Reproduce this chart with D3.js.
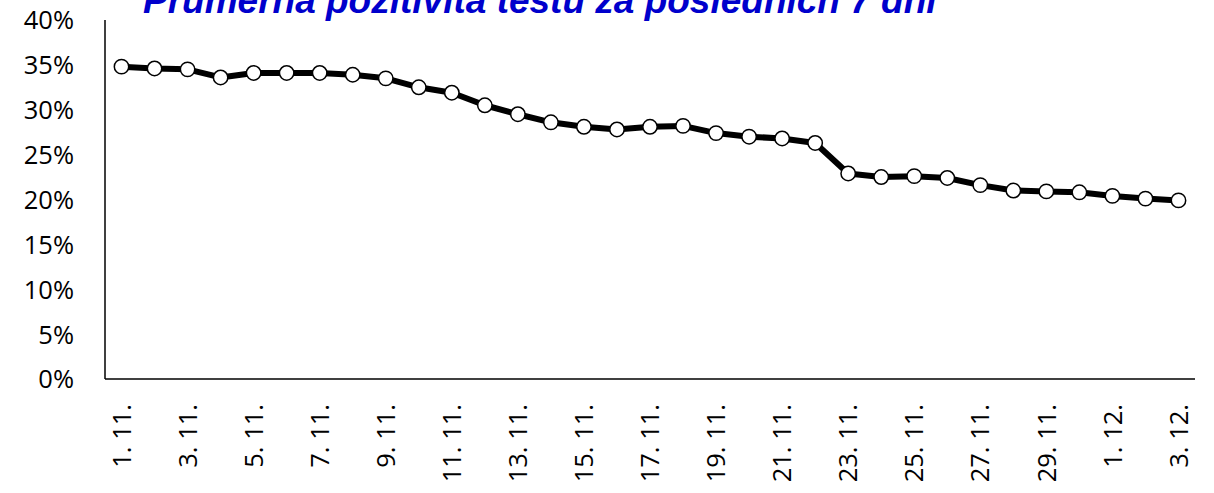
<!DOCTYPE html>
<html>
<head>
<meta charset="utf-8">
<script src="https://cdn.jsdelivr.net/npm/d3@7"></script>
<style>
  body { margin: 0; background: #fff; }
  .axis-label { font-family: "Open Sans", sans-serif; font-size: 25.5px; fill: #000; }
</style>
</head>
<body>
<script>
// Dates (categories)
var dates = ["1. 11.", "2. 11.", "3. 11.", "4. 11.", "5. 11.", "6. 11.", "7. 11.", "8. 11.", "9. 11.", "10. 11.",
             "11. 11.", "12. 11.", "13. 11.", "14. 11.", "15. 11.", "16. 11.", "17. 11.", "18. 11.", "19. 11.", "20. 11.",
             "21. 11.", "22. 11.", "23. 11.", "24. 11.", "25. 11.", "26. 11.", "27. 11.", "28. 11.", "29. 11.", "30. 11.",
             "1. 12.", "2. 12.", "3. 12."];

// Average test positivity over last 7 days (%)
var positivity = [34.8, 34.6, 34.5, 33.6, 34.1, 34.1, 34.1, 33.9, 33.5, 32.5,
                  31.9, 30.5, 29.5, 28.6, 28.1, 27.8, 28.1, 28.2, 27.4, 27.0,
                  26.8, 26.3, 22.9, 22.5, 22.6, 22.4, 21.6, 21.0, 20.9, 20.8,
                  20.4, 20.1, 19.9];

// Y axis ticks
var yTicks = [0, 0.05, 0.10, 0.15, 0.20, 0.25, 0.30, 0.35, 0.40];

var title = "Průměrná pozitivita testů za posledních 7 dní";

var data = dates.map(function(d, i) { return { date: d, value: positivity[i] / 100 }; });

var W = 1214, H = 493;
var margin = { top: 20, right: 19, bottom: 114, left: 105 },
    width = W - margin.left - margin.right,
    height = H - margin.top - margin.bottom;

var svg = d3.select("body").append("svg")
    .attr("width", W)
    .attr("height", H);

var g = svg.append("g")
    .attr("transform", "translate(" + margin.left + "," + margin.top + ")");

// Scales
var x = d3.scaleBand()
    .domain(dates)
    .range([0, width])
    .padding(0);

var y = d3.scaleLinear()
    .domain([0, 0.4])
    .range([height, 0]);

// Y axis (labels only, the axis line is drawn below)
var yAxis = g.append("g")
    .call(d3.axisLeft(y).tickValues(yTicks).tickFormat(d3.format(".0%")).tickSize(0).tickPadding(31));
yAxis.select(".domain").remove();
yAxis.selectAll("text")
    .attr("class", "axis-label")
    .attr("dy", "0.35em");

// X axis - every second date shown
var xAxis = g.append("g")
    .attr("transform", "translate(0," + height + ")")
    .call(d3.axisBottom(x).tickValues(dates.filter(function(d, i) { return i % 2 === 0; })).tickSize(0));
xAxis.select(".domain").remove();
xAxis.selectAll("text")
    .attr("class", "axis-label")
    .attr("transform", "rotate(-90)")
    .attr("text-anchor", "end")
    .attr("x", -25)
    .attr("y", 0)
    .attr("dy", "0.36em");

// Axis lines
g.append("line")
    .attr("x1", 0).attr("x2", 0)
    .attr("y1", 0).attr("y2", height)
    .attr("stroke", "#000").attr("stroke-width", 1.5);
g.append("line")
    .attr("x1", 0).attr("x2", width)
    .attr("y1", height).attr("y2", height)
    .attr("stroke", "#000").attr("stroke-width", 1.5);

// Line
var line = d3.line()
    .x(function(d) { return x(d.date) + x.bandwidth() / 2; })
    .y(function(d) { return y(d.value); });

g.append("path")
    .datum(data)
    .attr("fill", "none")
    .attr("stroke", "#000")
    .attr("stroke-width", 6)
    .attr("stroke-linejoin", "round")
    .attr("d", line);

// Markers
g.selectAll(".dot")
    .data(data)
    .enter().append("circle")
    .attr("class", "dot")
    .attr("cx", function(d) { return x(d.date) + x.bandwidth() / 2; })
    .attr("cy", function(d) { return y(d.value); })
    .attr("r", 7.2)
    .attr("fill", "#fff")
    .attr("stroke", "#000")
    .attr("stroke-width", 1.5);

// Title (partly cut off at the top, as in the original)
svg.append("text")
    .attr("x", 143)
    .attr("y", 13)
    .style("font-family", "'Liberation Sans', Arial, sans-serif")
    .style("font-size", "37px")
    .style("font-weight", "bold")
    .style("font-style", "italic")
    .style("fill", "#0000CC")
    .text(title);
</script>
</body>
</html>
